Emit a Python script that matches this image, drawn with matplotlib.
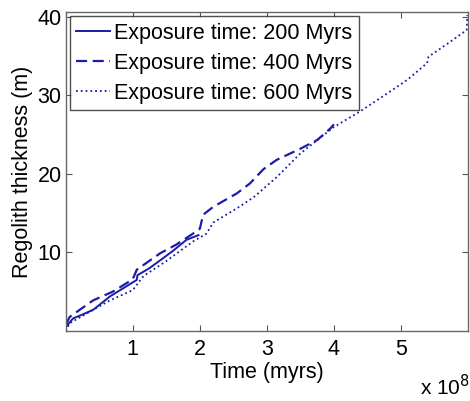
import matplotlib
matplotlib.use('Agg')
import matplotlib.pyplot as plt

# time in units of 1e8, thickness in m
t200 = [0.0, 0.005, 0.01, 0.11, 0.25, 0.41, 0.66, 0.85, 1.06, 1.07, 1.25, 1.41, 1.6, 1.8, 1.98]
y200 = [0.2, 1.4, 0.6, 1.6, 2.1, 2.7, 4.4, 5.4, 6.5, 7.1, 8.0, 9.0, 10.2, 11.6, 12.2]

t400 = [0.0, 0.06, 0.41, 0.7, 0.91, 1.0, 1.06, 1.41, 1.65, 1.9, 2.0, 2.05, 2.2, 2.55,
        2.75, 2.95, 3.15, 3.5, 3.75, 3.95, 4.0]
y400 = [0.8, 1.8, 3.9, 5.0, 6.1, 6.6, 7.8, 9.9, 11.0, 12.4, 13.0, 14.8, 15.8, 17.5,
        18.8, 20.6, 21.8, 23.2, 24.3, 25.8, 26.3]

t600 = [0.0, 0.06, 0.66, 1.0, 1.16, 1.5, 1.9, 2.1, 2.2, 2.55, 2.8, 3.15, 3.5, 3.99,
        4.4, 4.79, 5.1, 5.39, 5.41, 5.7, 5.98, 5.99]
y600 = [0.0, 1.0, 3.9, 5.2, 7.0, 8.9, 11.4, 12.4, 13.8, 15.6, 17.0, 19.6, 22.6, 25.9,
        28.0, 30.2, 32.0, 34.1, 34.9, 36.6, 38.3, 40.2]

labels = ['Exposure time: 200 Myrs', 'Exposure time: 400 Myrs', 'Exposure time: 600 Myrs']
xticks = [1, 2, 3, 4, 5]
yticks = [10, 20, 30, 40]

plt.rcParams['font.family'] = ['Liberation Sans', 'DejaVu Sans']
plt.rcParams['font.size'] = 15.5

blue = '#1c1ca8'
fig = plt.figure(figsize=(4.7, 4.01), dpi=100)
ax = fig.add_axes([65.7 / 470, 1 - 331 / 401, (468 - 65.7) / 470, (331 - 12) / 401])

ax.plot(t200, y200, '-', color=blue, lw=1.4, label=labels[0])
ax.plot(t400, y400, '--', color=blue, lw=1.6, dashes=(5, 2.5), label=labels[1])
ax.plot(t600, y600, ':', color=blue, lw=1.3, label=labels[2])

ax.set_xlim(0, 6)
ax.set_ylim(0, 40.6)
ax.set_xticks(xticks)
ax.set_yticks(yticks)
ax.tick_params(direction='in', top=True, right=True, length=4, width=0.8,
               color='#555555')
ax.tick_params(axis='y', pad=3)
ax.tick_params(axis='x', pad=6)
for s in ax.spines.values():
    s.set_color('#666666')
    s.set_linewidth(1.0)

ax.set_xlabel('Time (myrs)', labelpad=1)
ax.set_ylabel('Regolith thickness (m)', labelpad=3)
ax.text(1.005, -0.135, 'x 10$^{8}$', transform=ax.transAxes, ha='right', va='top',
        fontsize=15)

leg = ax.legend(loc='upper left', frameon=True, fancybox=False, borderaxespad=0.2,
                handlelength=1.55, handletextpad=0.2, borderpad=0.3, labelspacing=0.42,
                fontsize=15.5)
leg.get_frame().set_edgecolor('#222222')
leg.get_frame().set_linewidth(1.0)

fig.savefig('out.png', dpi=100)
